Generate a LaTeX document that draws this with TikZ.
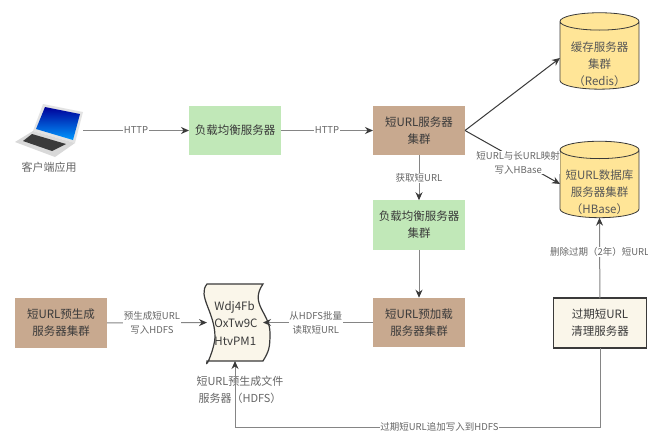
\documentclass[tikz,border=0pt]{standalone}
\usepackage{fontspec}
\setmainfont{Noto Sans CJK SC}
\usepackage{tikz}
\usetikzlibrary{arrows.meta,positioning,calc,shapes.geometric}
\definecolor{cGreen}{HTML}{C1E8B8}
\definecolor{cBrown}{HTML}{C8A98F}
\definecolor{cYellow}{HTML}{FFE597}
\definecolor{cCream}{HTML}{FAF6EA}
\definecolor{cInk}{HTML}{3A3A3A}
\definecolor{cLine}{HTML}{858585}
\definecolor{cMuted}{HTML}{666666}
\newcommand{\storespace}{\makebox[62pt]{\rule{0pt}{50pt}}}

\begin{document}
\begin{tikzpicture}[x=1pt, y=-1pt, font=\fontsize{11.5}{17}\selectfont, text=cInk,
  box/.style={fill=#1, minimum width=92pt, minimum height=49.5pt, inner sep=0pt, outer sep=0pt, align=center},
  box/.default=white,
  store/.style={cylinder, shape border rotate=90, draw=cInk, fill=cYellow, line width=0.8pt, aspect=.28,
    minimum width=79pt, minimum height=76pt, inner sep=0pt, outer sep=0pt},
  storetext/.style={align=center, text=cInk!85, inner sep=0pt},
  link/.style={draw=cLine, line width=1pt, -{Stealth[length=8pt,width=7pt,color=cInk]}},
  lbl/.style={font=\fontsize{9.5}{14}\selectfont, text=cMuted, fill=white, inner sep=0.5pt, align=center}]
  \useasboundingbox (0,0) rectangle (648,434);
  \fill[white] (0,0) rectangle (648,434);
  % top row
  \node[box=cGreen] (lbone) at (235,130.5) {负载均衡服务器};
  \node[box=cBrown, right=92pt of lbone] (surl) {短URL服务器\\集群};
  \node[box=cGreen, below=45pt of surl] (lbtwo) {负载均衡服务器\\集群};
  \node[box=cBrown, below=48pt of lbtwo] (preload) {短URL预加载\\服务器集群};
  \node[box=cBrown, anchor=west] (pregen) at (15,323) {短URL预生成\\服务器集群};
  \node[box=cCream, draw=cInk, line width=1.6pt, minimum width=93pt, anchor=west] (cleanup) at (553.5,323) {过期短URL\\清理服务器};
  % stores
  \node[store] (redis) at (599.5,55.5) {\storespace};
  \node[storetext] (redistext) at ($(redis)+(0,9)$) {缓存服务器\\集群\\（Redis）};
  \node[store] (hbase) at (599.5,184) {\storespace};
  \node[storetext] (hbasetext) at ($(hbase)+(0,8)$) {短URL数据库\\服务器集群\\（HBase）};
  % laptop
  \node[minimum width=68pt, minimum height=54pt, inner sep=0pt, outer sep=0pt] (laptop) at (49,130.5) {};
  \fill[gray!22] (43,104) -- (83,112) -- (75,143) -- (33,131) -- cycle;
  \shade[top color=blue!60!black, bottom color=cyan!60!blue] (45,107) -- (80,114) -- (73,140) -- (36,129) -- cycle;
  \fill[gray!30] (33,131) -- (75,143) -- (55,157) -- (15,142) -- cycle;
  \fill[cInk] (32,134) -- (66,144) -- (52,151) -- (23,141) -- cycle;
  \node[below=1pt of laptop, font=\fontsize{11}{14}\selectfont, text=cMuted] (client) {客户端应用};
  % file server
  \node[minimum width=56pt, minimum height=77pt, inner sep=0pt, outer sep=0pt] (doc) at (235,322.5) {};
  \draw[fill=cCream, draw=cInk, line width=1.2pt] (doc.north west)
    .. controls ++(-10,12) and ++(0,-25) .. (215,337)
    .. controls ++(0,10) and ++(-2,10) .. (doc.south west) -- (doc.south east)
    .. controls ++(6,-10) and ++(0,15) .. (270,333)
    .. controls ++(0,-20) and ++(-14,20) .. (doc.north east) -- cycle;
  \node[align=left, font=\fontsize{11.5}{17.5}\selectfont, xshift=1pt, yshift=-0.5pt] (codes) at (doc) {Wdj4Fb\\OxTw9C\\HtvPM1};
  \node[below=12pt of doc, xshift=5pt, font=\fontsize{11}{17}\selectfont, text=cMuted, align=center] (doclabel) {短URL预生成文件\\服务器（HDFS）};
  % connectors
  \draw[link] (laptop.east) -- node[lbl] {HTTP} (lbone);
  \draw[link] (lbone) -- node[lbl] {HTTP} (surl);
  \draw[link] (surl) -- node[lbl] {获取短URL} (lbtwo);
  \draw[link] (lbtwo) -- (preload);
  \draw[link, draw=cInk] (surl.east) -- ($(redis.west)+(0,2.5)$);
  \draw[link, draw=cInk] (surl.east) -- node[lbl, pos=.56, yshift=-2pt] {短URL与长URL映射\\写入HBase} (hbase.west);
  \draw[link] (pregen) -- node[lbl, pos=.45] {预生成短URL\\写入HDFS} (doc);
  \draw[link] (preload) -- node[lbl, pos=.52] {从HDFS批量\\读取短URL} (doc);
  \draw[link] (cleanup) -- node[lbl, pos=.58] {删除过期（2年）短URL} (hbase.south);
  \draw[link] (cleanup.south) -- (cleanup.south |- 0,427) -- node[lbl, pos=.44] {过期短URL追加写入到HDFS} (doc.south |- 0,427) -- (doc.south);
\end{tikzpicture}
\end{document}
